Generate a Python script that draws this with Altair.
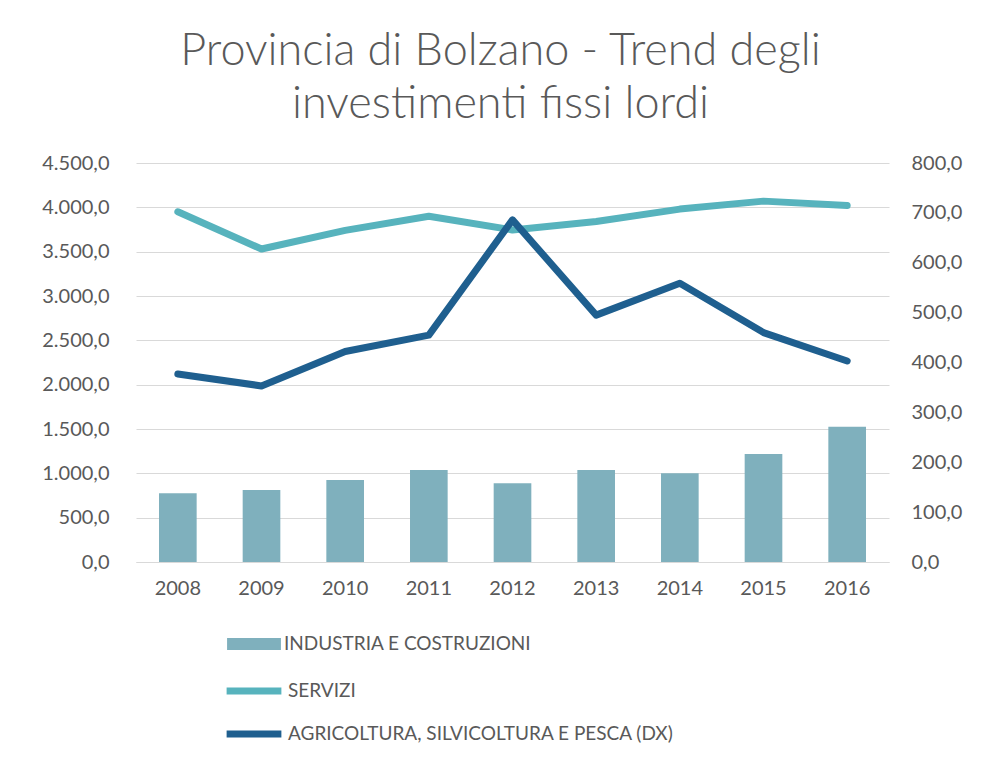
import altair as alt
import pandas as pd

years = ["2008", "2009", "2010", "2011", "2012", "2013", "2014", "2015", "2016"]
industria = [775, 812, 925, 1038, 887, 1038, 1000, 1218, 1526]
servizi = [3950, 3530, 3740, 3900, 3745, 3840, 3980, 4070, 4020]
agricoltura = [377, 353, 422, 455, 686, 495, 559, 460, 403]

S_IND = "INDUSTRIA E COSTRUZIONI"
S_SER = "SERVIZI"
S_AGR = "AGRICOLTURA, SILVICOLTURA E PESCA (DX)"

df = pd.DataFrame({"anno": years, "ind": industria, "ser": servizi, "agr": agricoltura})
df["s_ind"] = S_IND
df["s_ser"] = S_SER
df["s_agr"] = S_AGR

FONT = "Lato"
GRAY = "#595959"
it_fmt = "replace(replace(replace(format(datum.value, ',.1f'), ',', '#'), '.', ','), '#', '.')"

x = alt.X("anno:N", sort=years, title=None,
          scale=alt.Scale(paddingInner=0.55, paddingOuter=0.275),
          axis=alt.Axis(labelAngle=0, ticks=False, domain=True, domainColor="#d9d9d9",
                        labelFontSize=20, labelColor=GRAY, labelFont=FONT, labelPadding=16))

legend_common = dict(title=None, labelFontSize=19, labelColor=GRAY, labelFont=FONT,
                     orient="none", padding=0, labelOffset=3, labelLimit=600)

bars = alt.Chart(df).mark_bar().encode(
    x=x,
    y=alt.Y("ind:Q", title=None,
            scale=alt.Scale(domain=[0, 4500], nice=False),
            axis=alt.Axis(values=list(range(0, 4501, 500)), labelExpr=it_fmt, ticks=False,
                          domain=False, grid=True, gridColor="#d9d9d9", gridWidth=1,
                          labelFontSize=20, labelColor=GRAY, labelFont=FONT, labelPadding=27)),
    color=alt.Color("s_ind:N",
                    scale=alt.Scale(domain=[S_IND], range=["#7fb0bd"]),
                    legend=alt.Legend(symbolType="M-1,-0.22H1V0.22H-1Z", symbolSize=2900,
                                      symbolStrokeWidth=0,
                                      legendX=91, legendY=454, **legend_common)),
)

line_ser = alt.Chart(df).mark_line(strokeWidth=7, strokeCap="round", strokeJoin="round").encode(
    x=x,
    y=alt.Y("ser:Q", scale=alt.Scale(domain=[0, 4500], nice=False), axis=None),
    color=alt.Color("s_ser:N",
                    scale=alt.Scale(domain=[S_SER], range=["#57b3bd"]),
                    legend=alt.Legend(symbolType="stroke", symbolSize=3000, symbolStrokeWidth=7,
                                      legendX=87, legendY=497, **legend_common)),
)

line_agr = alt.Chart(df).mark_line(strokeWidth=7, strokeCap="round", strokeJoin="round").encode(
    x=x,
    y=alt.Y("agr:Q", title=None,
            scale=alt.Scale(domain=[0, 800], nice=False),
            axis=alt.Axis(orient="right", values=list(range(0, 801, 100)), labelExpr=it_fmt,
                          ticks=False, domain=False, grid=False,
                          labelFontSize=20, labelColor=GRAY, labelFont=FONT, labelPadding=22)),
    color=alt.Color("s_agr:N",
                    scale=alt.Scale(domain=[S_AGR], range=["#1f5f8f"]),
                    legend=alt.Legend(symbolType="stroke", symbolSize=3000, symbolStrokeWidth=7,
                                      legendX=87, legendY=540, **legend_common)),
)

chart = alt.layer(bars, line_ser, line_agr).resolve_scale(
    y="independent", color="independent"
).properties(
    width=753,
    height=399,
    autosize=alt.AutoSizeParams(type="none"),
    padding={"left": 128, "top": 155, "right": 87, "bottom": 197},
    background="#ffffff",
    title=alt.TitleParams(
        ["Provincia di Bolzano - Trend degli", "investimenti fissi lordi"],
        fontSize=45, font=FONT, fontWeight=300, color=GRAY, anchor="middle",
        lineHeight=53, offset=26, dx=-12,
    ),
).configure_view(stroke=None)

chart.save("out.html", embed_options={"renderer": "svg", "actions": False})
